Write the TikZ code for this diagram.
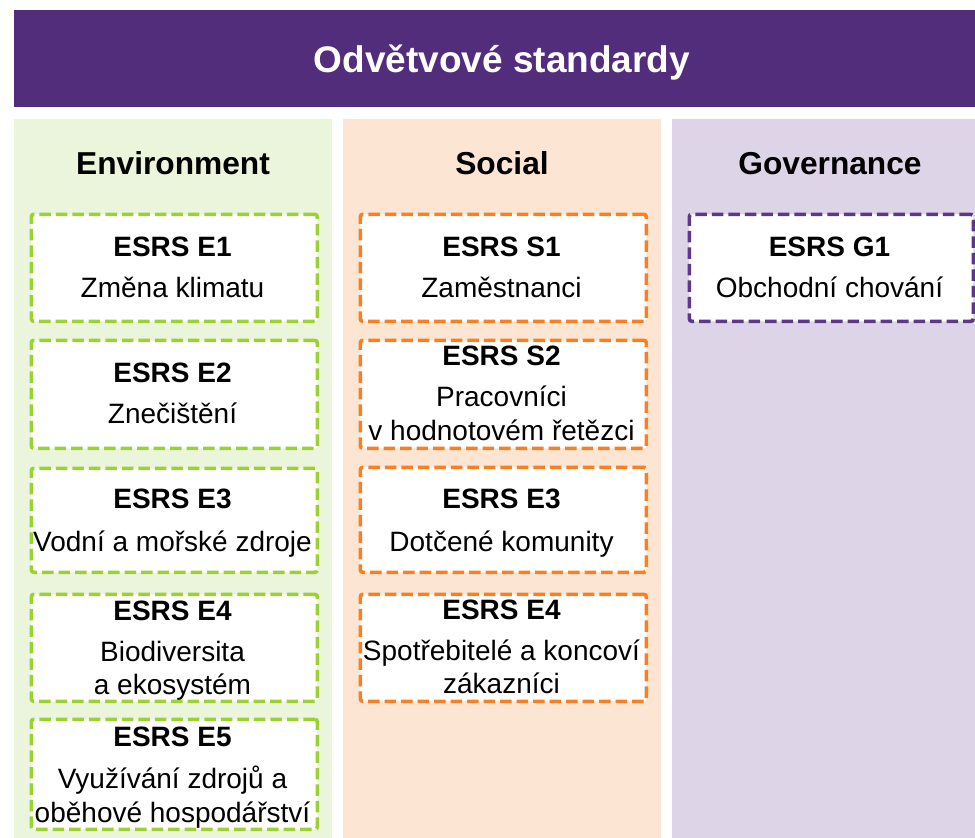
\documentclass[tikz,border=0pt]{standalone}
\usepackage{fontspec}
\setmainfont{Liberation Sans}
\definecolor{titlepurple}{RGB}{81,45,124}
\definecolor{envfill}{RGB}{235,245,219}
\definecolor{socfill}{RGB}{253,229,211}
\definecolor{govfill}{RGB}{221,213,231}
\definecolor{envline}{RGB}{154,210,52}
\definecolor{socline}{RGB}{247,128,34}
\definecolor{govline}{RGB}{93,56,138}
\tikzset{
  area/.style={draw=none, inner sep=0pt, anchor=north west},
  esbox/.style={draw=#1, line width=3.6pt, dash pattern=on 11.5pt off 5pt, rounded corners=2.5pt,
    fill=white, inner sep=0pt, anchor=north west, minimum width=286pt},
  bigtitle/.style={anchor=base, inner sep=0pt, text=white, font=\fontsize{37}{44}\selectfont\bfseries},
  colhead/.style={anchor=base, inner sep=0pt, font=\fontsize{31.7}{38}\selectfont\bfseries},
  boxtitle/.style={anchor=base, inner sep=0pt, font=\fontsize{28}{33}\selectfont\bfseries},
  boxbody/.style={anchor=base, inner sep=0pt, font=\fontsize{28}{33}\selectfont},
}
\begin{document}
\begin{tikzpicture}[x=1pt, y=-1pt]
\useasboundingbox (0,0) rectangle (975,838);
% title bar
\node[area, fill=titlepurple, minimum width=961pt, minimum height=97pt] (bar) at (14,10) {};
\node[bigtitle] (bart) at (502,72.5) {Odvětvové standardy};
% columns
\node[area, fill=envfill, minimum width=318pt, minimum height=719pt] (envcol) at (14,119) {};
\node[area, fill=socfill, minimum width=318pt, minimum height=719pt] (soccol) at (343,119) {};
\node[area, fill=govfill, minimum width=303pt, minimum height=719pt] (govcol) at (672,119) {};
\node[colhead] (envh) at (173,174) {Environment};
\node[colhead] (soch) at (502,174) {Social};
\node[colhead] (govh) at (830,174) {Governance};
% environment boxes
\node[esbox=envline, minimum height=107pt] (e1) at (29.5,212.5) {};
\node[boxtitle] (e1t) at (172.5,256) {ESRS E1};
\node[boxbody] (e1b) at (172.5,297) {Změna klimatu};
\node[esbox=envline, minimum height=108pt] (e2) at (29.5,338.5) {};
\node[boxtitle] (e2t) at (172.5,382) {ESRS E2};
\node[boxbody] (e2b) at (172.5,423) {Znečištění};
\node[esbox=envline, minimum height=104pt] (e3) at (29.5,466.5) {};
\node[boxtitle] (e3t) at (172.5,508) {ESRS E3};
\node[boxbody] (e3b) at (172.5,551) {Vodní a mořské zdroje};
\node[esbox=envline, minimum height=107pt] (e4) at (29.5,592.5) {};
\node[boxtitle] (e4t) at (172.5,620) {ESRS E4};
\node[boxbody] (e4b) at (172.5,661) {Biodiversita};
\node[boxbody] (e4c) at (172.5,694) {a ekosystém};
\node[esbox=envline, minimum height=110pt] (e5) at (29.5,717.5) {};
\node[boxtitle] (e5t) at (172.5,746) {ESRS E5};
\node[boxbody] (e5b) at (172.5,788) {Využívání zdrojů a};
\node[boxbody] (e5c) at (172.5,822) {oběhové hospodářství};
% social boxes
\node[esbox=socline, minimum height=107pt] (s1) at (358.5,212.5) {};
\node[boxtitle] (s1t) at (501.5,256) {ESRS S1};
\node[boxbody] (s1b) at (501.5,297) {Zaměstnanci};
\node[esbox=socline, minimum height=108pt] (s2) at (358.5,338.5) {};
\node[boxtitle] (s2t) at (501.5,365) {ESRS S2};
\node[boxbody] (s2b) at (501.5,406) {Pracovníci};
\node[boxbody] (s2c) at (501.5,440) {v hodnotovém řetězci};
\node[esbox=socline, minimum height=105pt] (s3) at (358.5,465.5) {};
\node[boxtitle] (s3t) at (501.5,508) {ESRS E3};
\node[boxbody] (s3b) at (501.5,551) {Dotčené komunity};
\node[esbox=socline, minimum height=107pt] (s4) at (358.5,592.5) {};
\node[boxtitle] (s4t) at (501.5,619) {ESRS E4};
\node[boxbody] (s4b) at (501.5,660) {Spotřebitelé a koncoví};
\node[boxbody] (s4c) at (501.5,693) {zákazníci};
% governance box
\node[esbox=govline, minimum height=107pt, minimum width=284pt] (g1) at (687.5,212.5) {};
\node[boxtitle] (g1t) at (829.5,256) {ESRS G1};
\node[boxbody] (g1b) at (829.5,297) {Obchodní chování};
\end{tikzpicture}
\end{document}
